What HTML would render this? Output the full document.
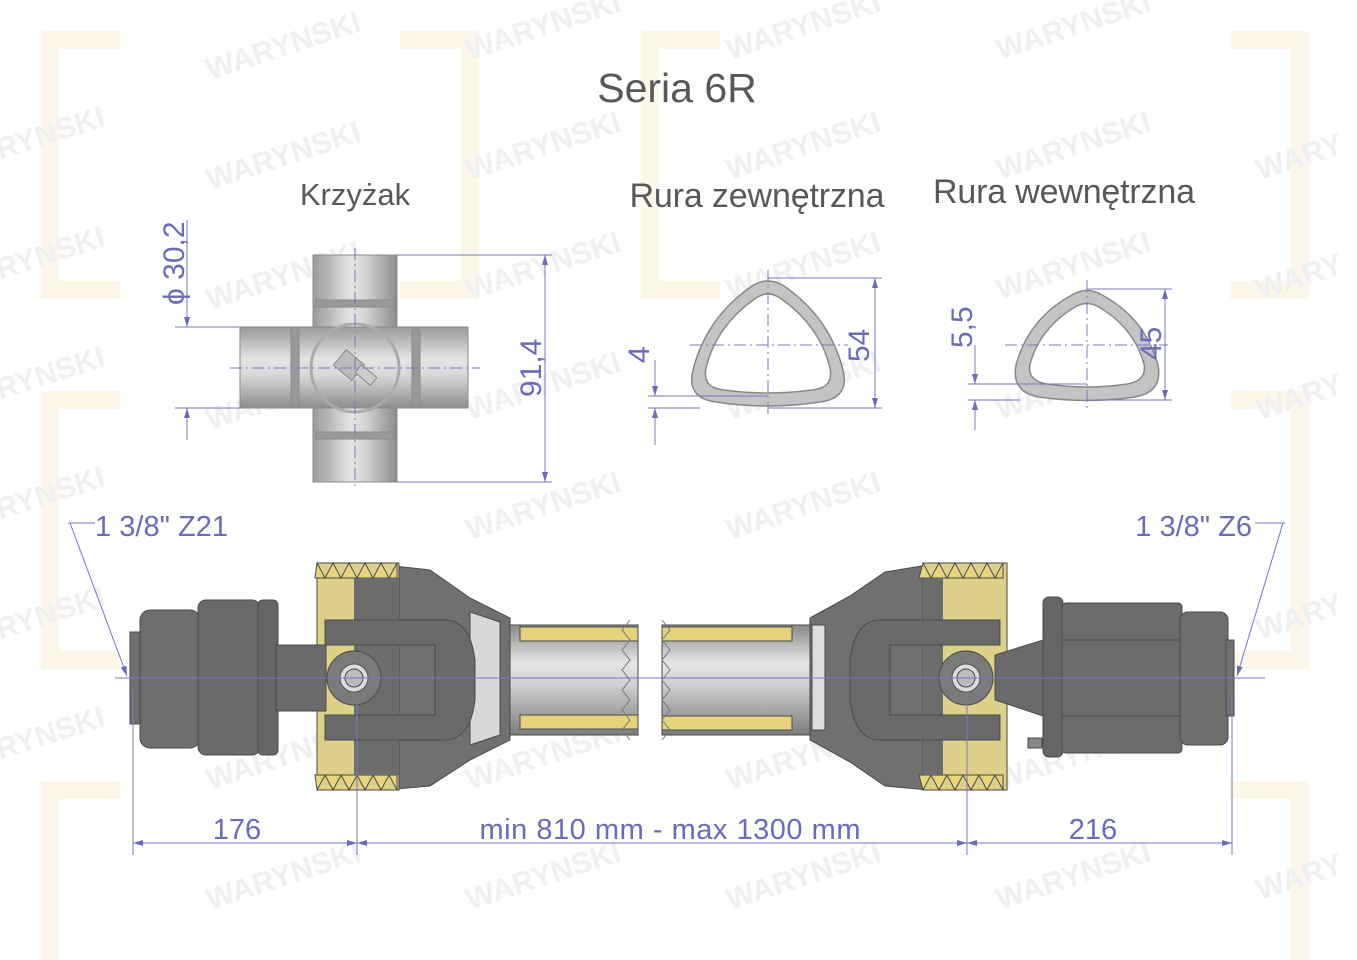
<!DOCTYPE html>
<html><head><meta charset="utf-8"><style>
html,body{margin:0;padding:0;background:#fff}
svg{display:block}
text{font-family:"Liberation Sans",sans-serif}
</style></head><body>
<svg width="1357" height="960" viewBox="0 0 1357 960" xmlns="http://www.w3.org/2000/svg">
<defs>
<linearGradient id="cyl" x1="0" y1="0" x2="0" y2="1">
<stop offset="0" stop-color="#9a9a9a"/><stop offset="0.4" stop-color="#e4e4e4"/><stop offset="0.6" stop-color="#d8d8d8"/><stop offset="1" stop-color="#8c8c8c"/></linearGradient>
<linearGradient id="cylv" x1="0" y1="0" x2="1" y2="0">
<stop offset="0" stop-color="#9a9a9a"/><stop offset="0.45" stop-color="#e4e4e4"/><stop offset="0.6" stop-color="#d8d8d8"/><stop offset="1" stop-color="#8c8c8c"/></linearGradient>
<linearGradient id="tube" x1="0" y1="0" x2="0" y2="1">
<stop offset="0" stop-color="#8a8a8a"/><stop offset="0.35" stop-color="#e6e6e6"/><stop offset="0.55" stop-color="#cfcfcf"/><stop offset="1" stop-color="#7c7c7c"/></linearGradient>
<marker id="ar" viewBox="0 0 10 10" refX="10" refY="5" markerWidth="10" markerHeight="10" orient="auto-start-reverse"><path d="M0,2 L10,5 L0,8 z" fill="#6b6bb8"/></marker>
</defs>

<!-- watermarks -->
<g fill="none" stroke="#fdf7ea" stroke-width="18">
<path d="M120,40 h-70 v250 h70"/><path d="M400,40 h70 v250 h-70"/>
<path d="M720,40 h-70 v250 h70"/><path d="M1230,40 h70 v250 h-70"/>
<path d="M120,400 h-70 v260 h70"/><path d="M1230,400 h70 v260 h-70"/>
<path d="M120,790 h-70 v170"/><path d="M1230,790 h70 v170"/>
</g>
<g fill="#f0f0f0" font-weight="bold" font-size="30">
<text transform="translate(210,80) rotate(-18)">WARYNSKI</text>
<text transform="translate(470,60) rotate(-18)">WARYNSKI</text>
<text transform="translate(730,60) rotate(-18)">WARYNSKI</text>
<text transform="translate(1000,60) rotate(-18)">WARYNSKI</text>
<text transform="translate(210,190) rotate(-18)">WARYNSKI</text>
<text transform="translate(470,180) rotate(-18)">WARYNSKI</text>
<text transform="translate(730,180) rotate(-18)">WARYNSKI</text>
<text transform="translate(1000,180) rotate(-18)">WARYNSKI</text>
<text transform="translate(210,310) rotate(-18)">WARYNSKI</text>
<text transform="translate(470,300) rotate(-18)">WARYNSKI</text>
<text transform="translate(730,300) rotate(-18)">WARYNSKI</text>
<text transform="translate(1000,300) rotate(-18)">WARYNSKI</text>
<text transform="translate(210,430) rotate(-18)">WARYNSKI</text>
<text transform="translate(470,420) rotate(-18)">WARYNSKI</text>
<text transform="translate(730,420) rotate(-18)">WARYNSKI</text>
<text transform="translate(1000,420) rotate(-18)">WARYNSKI</text>
<text transform="translate(470,540) rotate(-18)">WARYNSKI</text>
<text transform="translate(730,540) rotate(-18)">WARYNSKI</text>
<text transform="translate(210,790) rotate(-18)">WARYNSKI</text>
<text transform="translate(470,790) rotate(-18)">WARYNSKI</text>
<text transform="translate(730,790) rotate(-18)">WARYNSKI</text>
<text transform="translate(1000,790) rotate(-18)">WARYNSKI</text>
<text transform="translate(210,910) rotate(-18)">WARYNSKI</text>
<text transform="translate(470,910) rotate(-18)">WARYNSKI</text>
<text transform="translate(730,910) rotate(-18)">WARYNSKI</text>
<text transform="translate(1000,910) rotate(-18)">WARYNSKI</text>
<text transform="translate(0,160) rotate(-18)">RYNSKI</text>
<text transform="translate(0,280) rotate(-18)">RYNSKI</text>
<text transform="translate(0,400) rotate(-18)">RYNSKI</text>
<text transform="translate(0,520) rotate(-18)">RYNSKI</text>
<text transform="translate(0,640) rotate(-18)">RYNSKI</text>
<text transform="translate(0,760) rotate(-18)">RYNSKI</text>
<text transform="translate(1260,180) rotate(-18)">WARY</text>
<text transform="translate(1260,300) rotate(-18)">WARY</text>
<text transform="translate(1260,420) rotate(-18)">WARY</text>
<text transform="translate(1260,640) rotate(-18)">WARY</text>
<text transform="translate(1260,900) rotate(-18)">WARY</text>
</g>

<!-- titles -->
<g fill="#585858">
<text x="677" y="102" font-size="41" text-anchor="middle">Seria 6R</text>
<text x="355" y="205" font-size="31" text-anchor="middle">Krzyżak</text>
<text x="757" y="207" font-size="34" text-anchor="middle" textLength="255">Rura zewnętrzna</text>
<text x="1064" y="203" font-size="34" text-anchor="middle" textLength="262">Rura wewnętrzna</text>
</g>

<!-- cross -->
<g stroke="#8a8a8a" stroke-width="1">
<rect x="313" y="290" width="84" height="160" fill="url(#cylv)"/>
<rect x="280" y="327" width="150" height="81" fill="url(#cyl)"/>
<rect x="313" y="255" width="84" height="52" fill="url(#cylv)"/>
<rect x="313" y="435" width="84" height="47" fill="url(#cylv)"/>
<rect x="240" y="327" width="52" height="81" fill="url(#cyl)"/>
<rect x="418" y="327" width="50" height="81" fill="url(#cyl)"/>
<rect x="291" y="330" width="8" height="75" fill="#999"/>
<rect x="412" y="330" width="8" height="75" fill="#999"/>
<rect x="316" y="300" width="78" height="7" fill="#999"/>
<rect x="316" y="432" width="78" height="7" fill="#999"/>
<circle cx="355" cy="368" r="44" fill="none" stroke="#aaa" stroke-width="3"/>
<rect x="337" y="355" width="24" height="20" fill="#bbb" transform="rotate(40 349 365)"/>
<rect x="356" y="370" width="20" height="10" fill="#ccc" transform="rotate(40 366 375)"/>
</g>
<g stroke="#7878c0" stroke-width="1" fill="none">
<line x1="355" y1="248" x2="355" y2="490" stroke-dasharray="12,4,2,4"/>
<line x1="230" y1="368" x2="480" y2="368" stroke-dasharray="12,4,2,4"/>
<line x1="175" y1="327" x2="240" y2="327"/><line x1="175" y1="408" x2="240" y2="408"/>
<line x1="187" y1="220" x2="187" y2="327" marker-end="url(#ar)"/>
<line x1="187" y1="440" x2="187" y2="408" marker-end="url(#ar)"/>
<line x1="397" y1="255" x2="552" y2="255"/><line x1="397" y1="482" x2="552" y2="482"/>
<line x1="545" y1="255" x2="545" y2="482" marker-start="url(#ar)" marker-end="url(#ar)"/>
</g>
<g fill="#6b6bb8" font-size="30">
<text transform="translate(184,305) rotate(-90)">ϕ 30,2</text>
<text transform="translate(541,397) rotate(-90)">91,4</text>
</g>

<!-- outer tube: rounded triangle apex up -->
<g>
<path d="M752,286 Q768,276 784,286 Q830,318 843,370 Q850,398 820,402 Q768,410 716,402 Q686,398 693,370 Q706,318 752,286 Z" fill="#c4c4c4" stroke="#888" stroke-width="1.5"/>
<path d="M756,298 Q768,290 780,298 Q820,326 830,368 Q834,388 812,390 Q768,396 724,390 Q702,388 706,368 Q716,326 756,298 Z" fill="#fff" stroke="#888" stroke-width="1.5"/>
</g>
<g stroke="#7878c0" stroke-width="1" fill="none">
<line x1="768" y1="270" x2="768" y2="415" stroke-dasharray="12,4,2,4"/>
<line x1="690" y1="345" x2="848" y2="345" stroke-dasharray="12,4,2,4"/>
<line x1="768" y1="278" x2="882" y2="278"/><line x1="768" y1="408" x2="882" y2="408"/>
<line x1="875" y1="278" x2="875" y2="408" marker-start="url(#ar)" marker-end="url(#ar)"/>
<line x1="648" y1="396" x2="768" y2="396"/><line x1="648" y1="408" x2="700" y2="408"/>
<line x1="655" y1="360" x2="655" y2="396" marker-end="url(#ar)"/>
<line x1="655" y1="445" x2="655" y2="408" marker-end="url(#ar)"/>
</g>
<g fill="#6b6bb8" font-size="30">
<text transform="translate(869,362) rotate(-90)">54</text>
<text transform="translate(649,363) rotate(-90)">4</text>
</g>

<!-- inner tube -->
<g>
<path d="M1072,295 Q1087,286 1102,295 Q1145,318 1158,365 Q1163,392 1135,397 Q1087,404 1039,397 Q1011,392 1016,365 Q1029,318 1072,295 Z" fill="#c4c4c4" stroke="#888" stroke-width="1.5"/>
<path d="M1075,307 Q1087,300 1099,307 Q1134,328 1144,364 Q1147,381 1127,384 Q1087,390 1047,384 Q1027,381 1030,364 Q1040,328 1075,307 Z" fill="#fff" stroke="#888" stroke-width="1.5"/>
</g>
<g stroke="#7878c0" stroke-width="1" fill="none">
<line x1="1087" y1="280" x2="1087" y2="410" stroke-dasharray="12,4,2,4"/>
<line x1="1005" y1="345" x2="1168" y2="345" stroke-dasharray="12,4,2,4"/>
<line x1="1087" y1="289" x2="1172" y2="289"/><line x1="1087" y1="400" x2="1172" y2="400"/>
<line x1="1165" y1="289" x2="1165" y2="400" marker-start="url(#ar)" marker-end="url(#ar)"/>
<line x1="968" y1="384" x2="1087" y2="384"/><line x1="968" y1="400" x2="1020" y2="400"/>
<line x1="975" y1="345" x2="975" y2="384" marker-end="url(#ar)"/>
<line x1="975" y1="430" x2="975" y2="400" marker-end="url(#ar)"/>
</g>
<g fill="#6b6bb8" font-size="30">
<text transform="translate(1161,360) rotate(-90)">45</text>
<text transform="translate(972,348) rotate(-90)">5,5</text>
</g>

<!-- shaft: left -->
<g stroke="#4a4a4a" stroke-width="1">
<rect x="500" y="625" width="138" height="110" fill="url(#tube)"/>
<rect x="520" y="627" width="118" height="14" fill="#e6d27a"/>
<rect x="520" y="715" width="118" height="14" fill="#e6d27a"/>
<path d="M385,565 L430,570 L470,598 L510,618 L510,740 L470,760 L430,786 L385,790 Z" fill="#707070"/>
<path d="M470,612 L500,622 L500,735 L470,745 Z" fill="#d8d8d8"/>
<rect x="317" y="563" width="82" height="227" fill="#ddd089"/>
<path d="M317,563 l8,15 l8,-15 l8,15 l8,-15 l8,15 l8,-15 l8,15 l8,-15 l8,15 l8,-15 v15 h-82 z" fill="#e8d67c"/>
<path d="M317,790 l8,-15 l8,15 l8,-15 l8,15 l8,-15 l8,15 l8,-15 l8,15 l8,-15 l8,15 v-15 h-82 z" fill="#e8d67c"/>
<rect x="354" y="578" width="45" height="197" fill="#6c6c6c" stroke="none"/>
<path d="M325,620 h120 q25,0 30,40 v40 q-5,40 -30,40 h-120 v-25 h110 v-70 h-110 z" fill="#6a6a6a"/>
<rect x="130" y="632" width="12" height="92" fill="#707070"/>
<rect x="140" y="610" width="60" height="138" rx="10" fill="#6e6e6e"/>
<rect x="198" y="600" width="62" height="155" rx="8" fill="#6a6a6a"/>
<rect x="258" y="600" width="20" height="155" rx="5" fill="#666"/>
<rect x="276" y="645" width="50" height="66" fill="#6a6a6a"/>
<circle cx="354" cy="678" r="27" fill="#7a7a7a"/>
<circle cx="354" cy="678" r="14" fill="#ddd" stroke="#555"/>
<circle cx="354" cy="678" r="9" fill="#bbb"/>
<path d="M630,620 l-8,10 l8,10 l-8,10 l8,10 l-8,10 l8,10 l-8,10 l8,10 l-8,10 l8,10 l-8,10 l8,10" fill="none" stroke="#777"/>
</g>

<!-- shaft: right -->
<g stroke="#4a4a4a" stroke-width="1">
<rect x="662" y="625" width="150" height="110" fill="url(#tube)"/>
<rect x="662" y="627" width="130" height="14" fill="#e6d27a"/>
<rect x="662" y="716" width="130" height="14" fill="#e6d27a"/>
<path d="M810,618 L850,596 L885,572 L928,565 L928,790 L885,786 L850,762 L810,740 Z" fill="#707070"/>
<path d="M812,625 L825,625 L825,730 L812,730 Z" fill="#ddd"/>
<rect x="923" y="563" width="84" height="227" fill="#ddd089"/>
<path d="M923,563 l8,15 l8,-15 l8,15 l8,-15 l8,15 l8,-15 l8,15 l8,-15 l8,15 l8,-15 v15 h-84 z" fill="#e8d67c"/>
<path d="M923,790 l8,-15 l8,15 l8,-15 l8,15 l8,-15 l8,15 l8,-15 l8,15 l8,-15 l8,15 v-15 h-84 z" fill="#e8d67c"/>
<rect x="923" y="578" width="20" height="197" fill="#6c6c6c" stroke="none"/>
<path d="M1000,620 h-120 q-25,0 -30,40 v40 q5,40 30,40 h120 v-25 h-110 v-70 h110 z" fill="#6a6a6a"/>
<path d="M995,655 L1043,640 L1043,716 L995,700 Z" fill="#6a6a6a"/>
<rect x="1043" y="597" width="20" height="160" rx="6" fill="#666"/>
<rect x="1062" y="603" width="120" height="150" rx="4" fill="#6c6c6c"/>
<line x1="1062" y1="640" x2="1182" y2="640"/><line x1="1062" y1="678" x2="1182" y2="678"/><line x1="1062" y1="716" x2="1182" y2="716"/>
<rect x="1180" y="612" width="48" height="133" rx="8" fill="#6e6e6e"/>
<rect x="1226" y="640" width="8" height="76" fill="#707070"/>
<rect x="1028" y="738" width="14" height="10" fill="#888"/>
<circle cx="966" cy="678" r="27" fill="#7a7a7a"/>
<circle cx="966" cy="678" r="14" fill="#ddd" stroke="#555"/>
<circle cx="966" cy="678" r="9" fill="#bbb"/>
<path d="M662,620 l8,10 l-8,10 l8,10 l-8,10 l8,10 l-8,10 l8,10 l-8,10 l8,10 l-8,10 l8,10 l-8,10" fill="none" stroke="#777"/>
</g>

<!-- centerline & dims -->
<g stroke="#7878c0" stroke-width="1" fill="none">
<line x1="115" y1="678" x2="1265" y2="678"/>
<line x1="133" y1="690" x2="133" y2="855"/>
<line x1="357" y1="700" x2="357" y2="855"/>
<line x1="967" y1="700" x2="967" y2="855"/>
<line x1="1232" y1="690" x2="1232" y2="855"/>
<line x1="133" y1="843" x2="357" y2="843" marker-start="url(#ar)" marker-end="url(#ar)"/>
<line x1="357" y1="843" x2="967" y2="843" marker-start="url(#ar)" marker-end="url(#ar)"/>
<line x1="967" y1="843" x2="1232" y2="843" marker-start="url(#ar)" marker-end="url(#ar)"/>
<line x1="68" y1="523" x2="95" y2="523"/>
<line x1="70" y1="523" x2="127" y2="676" marker-end="url(#ar)"/>
<line x1="1255" y1="523" x2="1285" y2="523"/>
<line x1="1283" y1="523" x2="1237" y2="676" marker-end="url(#ar)"/>
</g>
<g fill="#6b6bb8" font-size="29">
<text x="237" y="839" text-anchor="middle">176</text>
<text x="670" y="839" text-anchor="middle" textLength="381">min 810 mm - max 1300 mm</text>
<text x="1093" y="839" text-anchor="middle">216</text>
<text x="95" y="536" textLength="133">1 3/8" Z21</text>
<text x="1252" y="536" text-anchor="end">1 3/8" Z6</text>
</g>
</svg>
</body></html>
